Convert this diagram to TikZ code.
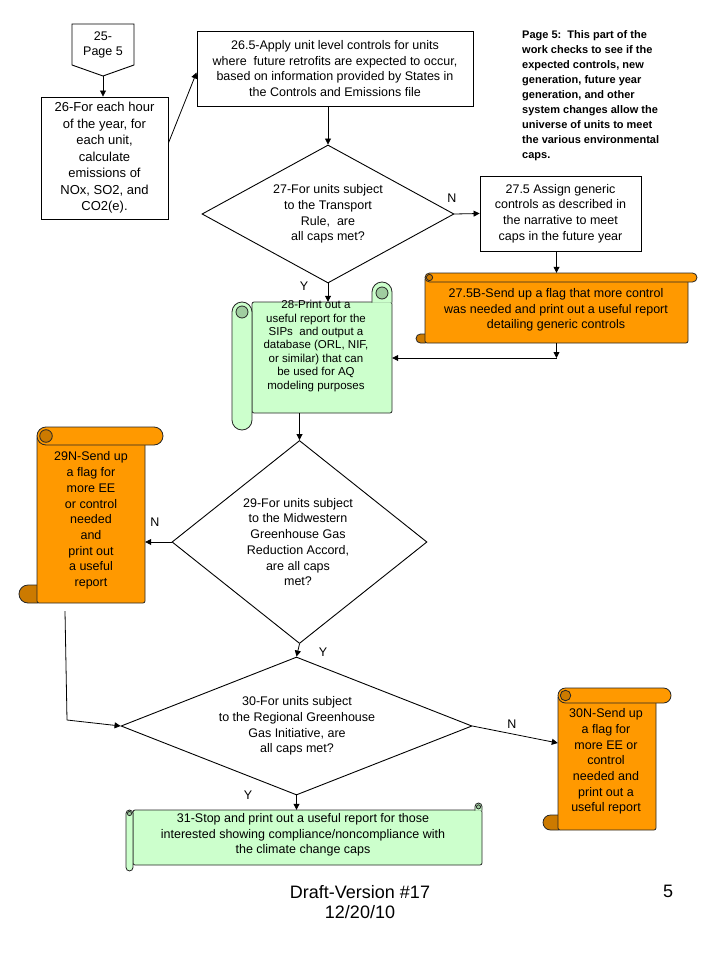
\documentclass[tikz,border=0pt]{standalone}
\usepackage{fontspec}
\setmainfont{Liberation Sans}
\usetikzlibrary{shapes.geometric,arrows.meta}
\definecolor{orng}{RGB}{255,153,0}
\definecolor{dorng}{RGB}{204,122,0}
\definecolor{grn}{RGB}{204,255,204}
\definecolor{dgrn}{RGB}{160,205,160}
\tikzset{
  sline/.style={draw=black!85, line width=0.8pt},
  txt/.style={align=center, font=\fontsize{12.5}{15.7}\selectfont, inner sep=0pt},
  boxnode/.style={draw, line width=0.9pt, inner sep=0pt},
  dia/.style={draw, diamond, line width=0.9pt, inner sep=0pt},
  inv/.style={draw=none, inner sep=0pt},
  conn/.style={line width=0.8pt, -{Triangle[length=6pt,width=6pt]}},
  plain/.style={line width=0.8pt},
  lbl/.style={font=\fontsize{12.5}{14}\selectfont, inner sep=0pt}
}
% horizontal scroll: L, T (top of roll), R (body right), B, d, fill, dark
\newcommand{\hscrollshape}[7]{%
  \draw[sline, fill=#7, rounded corners=#5*0.5pt] (#1-#5, #4-#5) rectangle (#1+#5*0.5, #4);
  \draw[sline, fill=#6, rounded corners=2pt] (#1, #2+#5*0.5) rectangle (#3, #4);
  \draw[sline, fill=#6, rounded corners=#5*0.5pt] (#1, #2) rectangle (#3+#5, #2+#5);
  \draw[sline, fill=#7] (#1+#5*0.5, #2+#5*0.5) circle [radius=#5*0.35];
}
% vertical scroll: L, T (body top), R, B (body bottom), d, fill, dark
\newcommand{\vscrollshape}[7]{%
  \draw[sline, fill=#6, rounded corners=2pt] (#1, #2) rectangle (#3, #4);
  \draw[sline, fill=#6] (#3-#5, #2+0.5) [rounded corners=#5*0.5pt] -- (#3-#5, #2-#5) -- (#3, #2-#5) [sharp corners] -- (#3, #2+0.5);
  \draw[sline, fill=#7] (#3-#5*0.5, #2-#5*0.45) circle [radius=#5*0.3];
  \draw[sline, fill=#6, rounded corners=#5*0.5pt] (#1-#5, #2) rectangle (#1, #4+#5*0.85);
  \draw[sline, fill=#7] (#1-#5*0.5, #2+#5*0.5) circle [radius=#5*0.3];
}
\begin{document}
\begin{tikzpicture}[x=1pt,y=-1pt]
\useasboundingbox[fill=white] (0,0) rectangle (720,960);

% 25 off-page connector
\draw[line width=0.9pt] (72,24) -- (134,24) -- (134,65) -- (103,76) -- (72,65) -- cycle;
\coordinate (n25tip) at (103,76);
\node[txt] (n25) at (103,45) {25-\\Page 5};

% 26
\node[boxnode, minimum width=127pt, minimum height=122pt] (n26) at (104.5,158) {};
\node[txt, font=\fontsize{13}{16.5}\selectfont] (t26) at (n26) {26-For each hour\\of the year, for\\each unit,\\calculate\\emissions of\\NOx, SO2, and\\CO2(e).};

% 26.5
\node[boxnode, minimum width=276pt, minimum height=75pt] (n265) at (335,68.5) {};
\node[txt] (t265) at (n265) {26.5-Apply unit level controls for units\\where\ \ future retrofits are expected to occur,\\based on information provided by States in\\the Controls and Emissions file};

% note
\node[anchor=north west, align=left, inner sep=0pt, font=\fontsize{11}{15}\selectfont\bfseries] (note) at (522,30) {Page 5:\ \ This part of the\\work checks to see if the\\expected controls, new\\generation, future year\\generation, and other\\system changes allow the\\universe of units to meet\\the various environmental\\caps.};

% 27 diamond
\node[dia, minimum width=252pt, minimum height=138pt] (d27) at (328,214) {};
\node[txt] (t27) at (d27) {27-For units subject\\to the Transport\\Rule,\ \ are\\all caps met?};

% 27.5
\node[boxnode, minimum width=161pt, minimum height=75pt] (n275) at (560.5,213.5) {};
\node[txt] (t275) at (n275) {27.5 Assign generic\\controls as described in\\the narrative to meet\\caps in the future year};

% 27.5B scroll
\hscrollshape{425}{273}{688}{343}{9}{orng}{dorng}
\node[inv, minimum width=263pt, minimum height=70pt] (s275b) at (556.5,308) {};
\node[txt] (t275b) at (556,310) {27.5B-Send up a flag that more control\\was needed and print out a useful report\\detailing generic controls};

% 28 scroll
\vscrollshape{252}{302}{392}{413}{20}{grn}{dgrn}
\node[inv, minimum width=140pt, minimum height=111pt] (s28) at (322,357.5) {};
\node[txt, font=\fontsize{11.5}{13.4}\selectfont] (t28) at (316,346) {28-Print out a\\useful report for the\\SIPs\ \ and output a\\database (ORL, NIF,\\or similar) that can\\be used for AQ\\modeling purposes};

% 29 diamond
\node[dia, minimum width=255pt, minimum height=203pt] (d29) at (299.5,542) {};
\node[txt] (t29) at (298,542) {29-For units subject\\to the Midwestern\\Greenhouse Gas\\Reduction Accord,\\are all caps\\met?};

% 29N scroll
\hscrollshape{37}{427}{145}{603}{18}{orng}{dorng}
\node[inv, minimum width=108pt, minimum height=176pt] (s29n) at (91,515) {};
\node[txt] (t29n) at (91,520.5) {29N-Send up\\a flag for\\more EE\\ or control\\needed\\and\\print out\\ a useful\\report};

% 30 diamond
\node[dia, minimum width=351pt, minimum height=138pt] (d30) at (296.5,726) {};
\node[txt] (t30) at (297,726) {30-For units subject\\to the Regional Greenhouse\\Gas Initiative, are\\all caps met?};

% 30N scroll
\hscrollshape{558}{688}{656}{830}{15}{orng}{dorng}
\node[inv, minimum width=98pt, minimum height=142pt] (s30n) at (607,759) {};
\node[txt] (t30n) at (606,761.5) {30N-Send up\\a flag for\\more EE or\\control\\needed and\\print out a\\useful report};

% 31 scroll
\vscrollshape{133}{810}{482}{865}{7}{grn}{dgrn}
\node[inv, minimum width=349pt, minimum height=55pt] (s31) at (307.5,837.5) {};
\node[txt] (t31) at (303,835) {31-Stop and print out a useful report for those\\interested showing compliance/noncompliance with\\the climate change caps};

% connectors
\draw[conn] (n25tip) -- (n26.north -| n25tip);
\draw[conn] ([yshift=15pt]n26.east) -- ([yshift=-4pt]n265.west);
\draw[conn] (d27.north |- n265.south) -- (d27.north);
\draw[conn] (d27.east) -- (n275.west);
\draw[conn] (n275.south -| s275b.north) -- (s275b.north);
\coordinate (j1) at (556.5,358);
\draw[conn] (s275b.south) -- (j1);
\draw[conn] (j1) -- (j1 -| s28.east);
\draw[conn] (d27.south) -- (d27.south |- s28.north);
\draw[conn] (d29.north |- s28.south) -- (d29.north);
\draw[conn] (d29.west) -- (d29.west -| s29n.east);
\coordinate (j2) at (67,720);
\draw[plain] ([xshift=-26pt,yshift=-8pt]s29n.south) -- (j2);
\draw[conn] (j2) -- (d30.west);
\draw[conn] (d29.south) -- (d30.north);
\draw[conn] (d30.east) -- ([yshift=16pt]s30n.west);
\draw[conn] (d30.south) -- (d30.south |- s31.north);

% labels
\node[lbl] (l27n) at (452,198) {N};
\node[lbl] (l27y) at (304,286) {Y};
\node[lbl] (l29n) at (155,522) {N};
\node[lbl] (l29y) at (323,652) {Y};
\node[lbl] (l30n) at (512,724) {N};
\node[lbl] (l30y) at (248,795) {Y};

% footer
\node[txt, font=\fontsize{18}{20}\selectfont] (foot) at (360,902) {Draft-Version \#17\\12/20/10};
\node[txt, font=\fontsize{18}{20}\selectfont] (pg) at (668,891) {5};
\end{tikzpicture}
\end{document}
